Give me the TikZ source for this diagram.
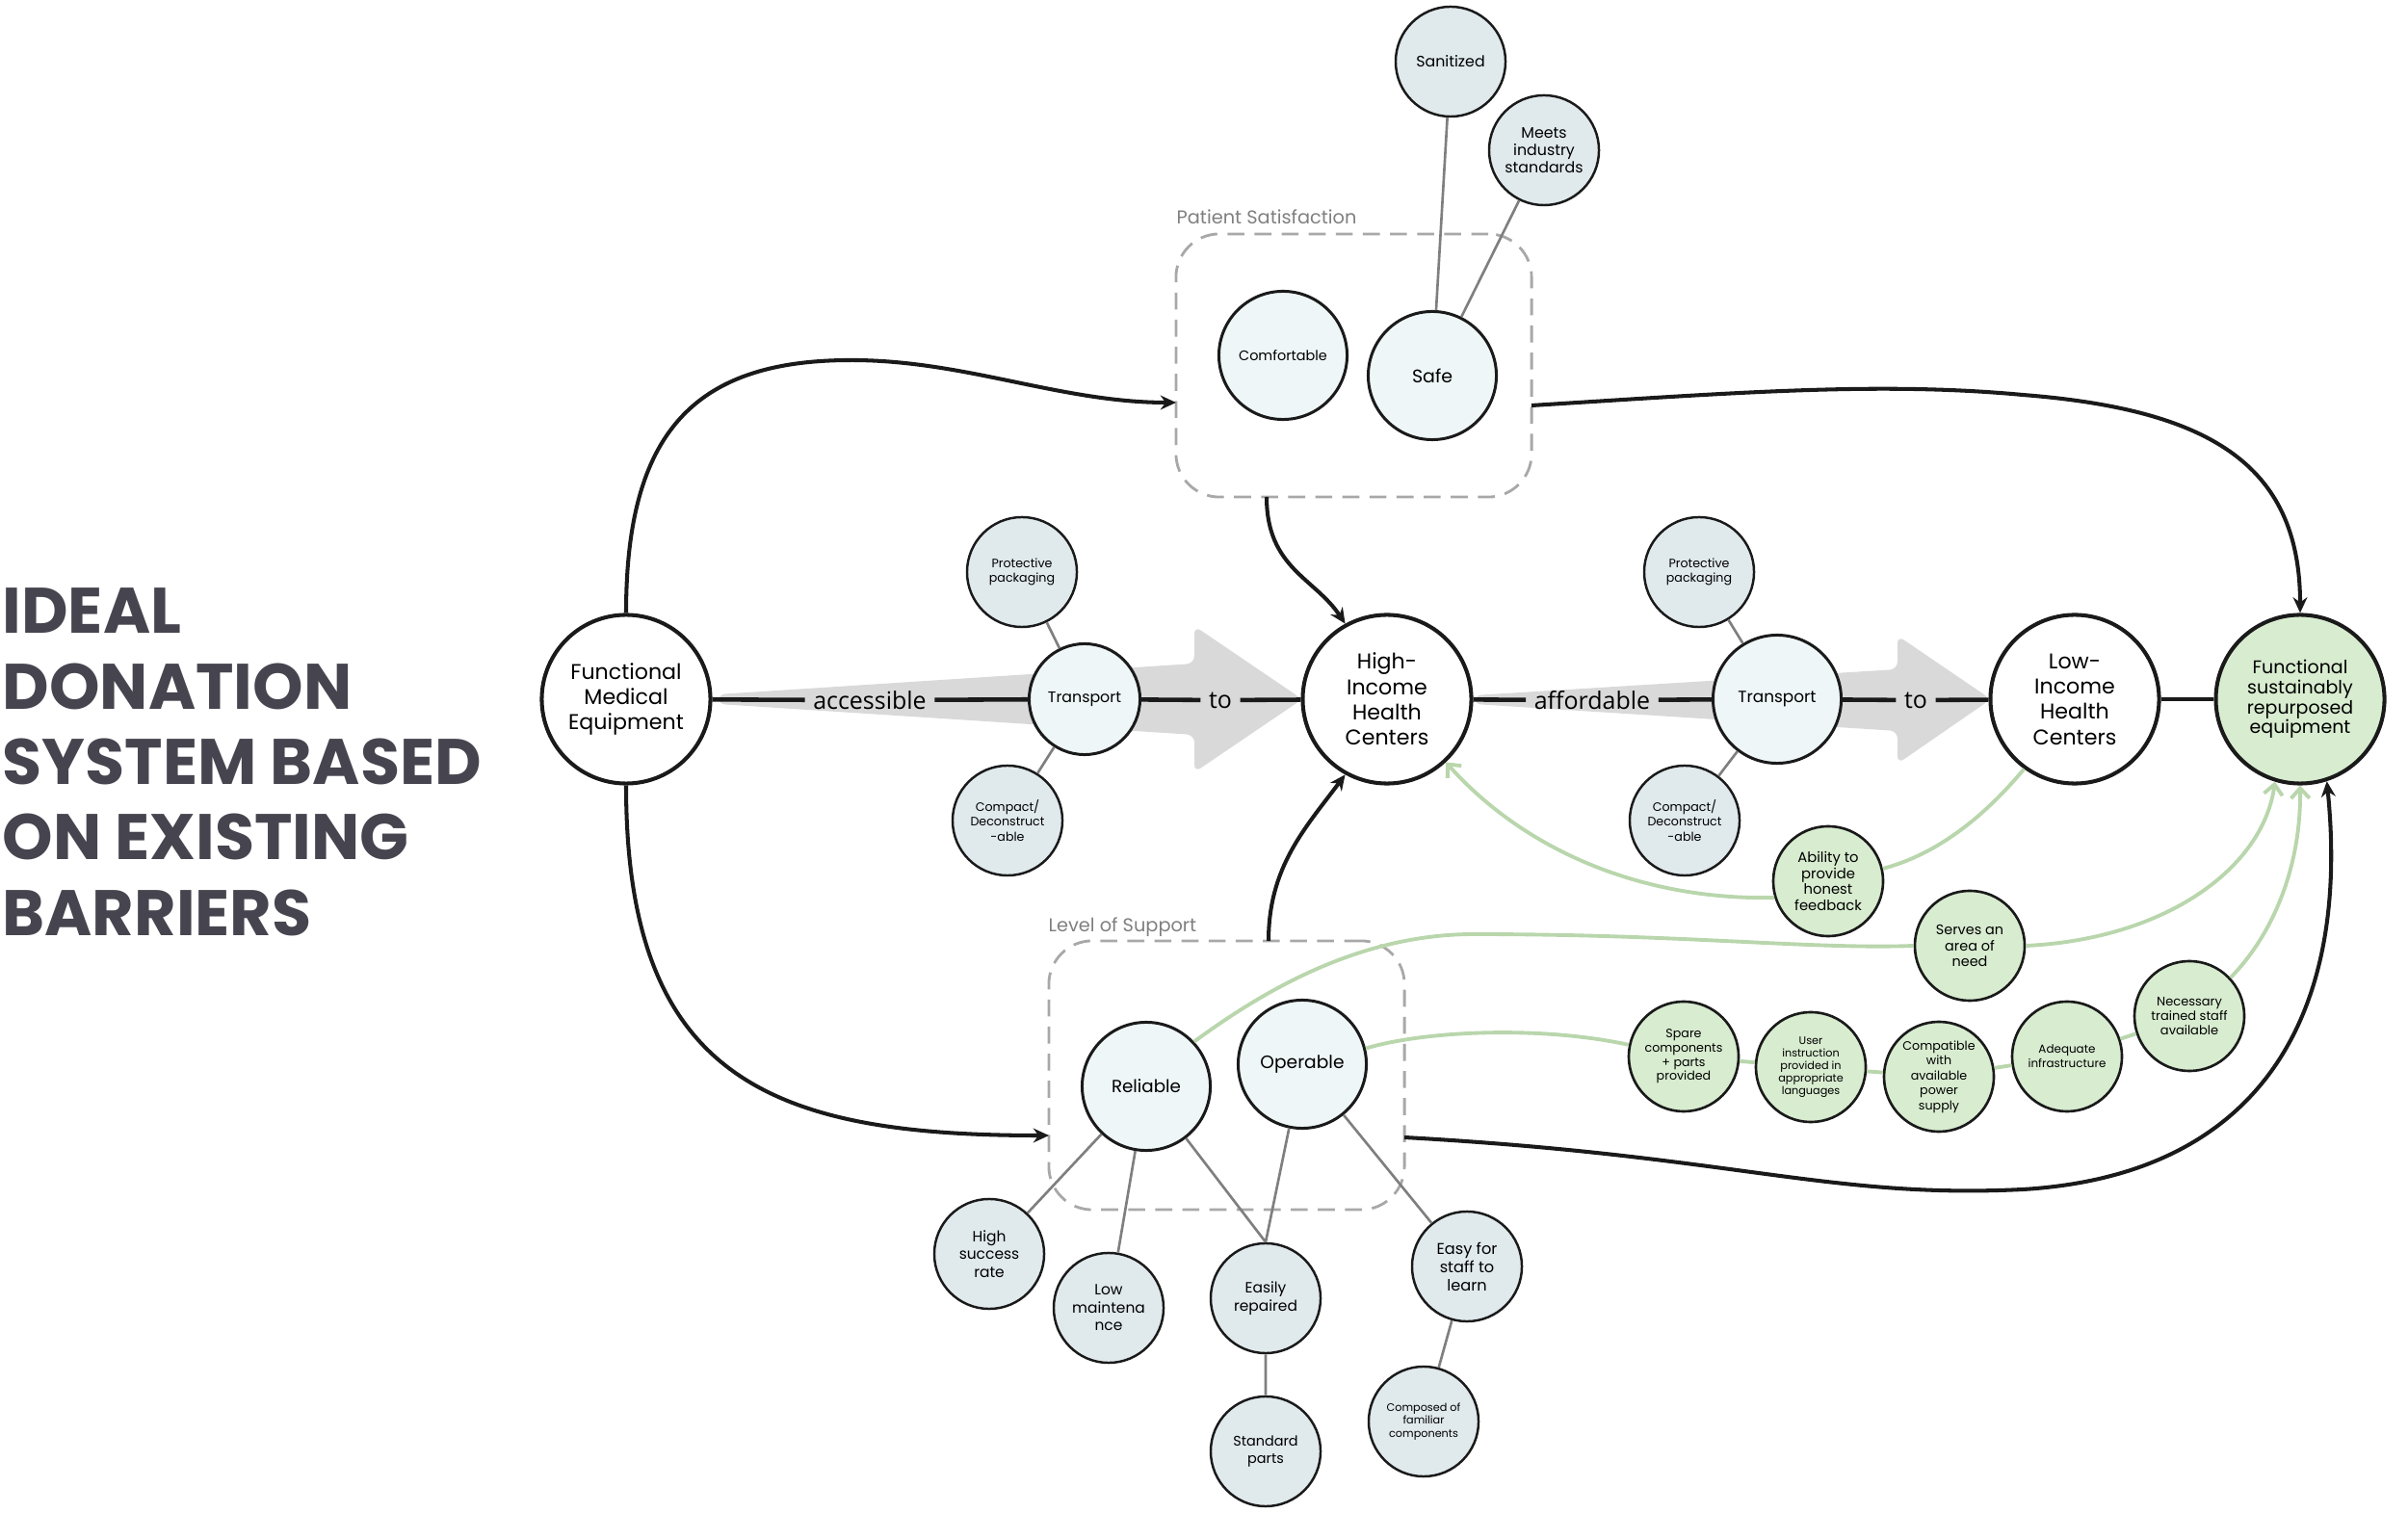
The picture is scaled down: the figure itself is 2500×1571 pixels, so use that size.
\documentclass[tikz,border=0pt]{standalone}
\usepackage{fontspec}
\setmainfont{Poppins}
\newfontfamily\labelfam{Open Sans}
\usepackage{tikz}
\usetikzlibrary{arrows.meta}

\definecolor{ink}{HTML}{1A1A1A}
\definecolor{titlegray}{HTML}{46454F}
\definecolor{subfill}{HTML}{EEF6F8}
\definecolor{leaffill}{HTML}{E0E9EC}
\definecolor{needfill}{HTML}{D8ECD0}
\definecolor{needline}{HTML}{B9D6AC}
\definecolor{bandgray}{HTML}{D9D9D9}
\definecolor{boxgray}{HTML}{A8A8A8}
\definecolor{linkgray}{HTML}{7F7F7F}

\newcommand{\nodefs}[2]{\fontsize{#1pt}{#2pt}\selectfont}

\tikzset{
  hub/.style={circle, draw=ink, line width=1.15pt, fill=white, minimum size=1.75cm,
    inner sep=0pt, align=center, font=\nodefs{6.3}{7.5}},
  sub/.style={circle, draw=ink, line width=0.85pt, fill=subfill, minimum size=1.33cm,
    inner sep=0pt, align=center},
  leaf/.style={circle, draw=ink, line width=0.7pt, fill=leaffill, minimum size=1.14cm,
    inner sep=0pt, align=center, font=\nodefs{4.4}{5.3}},
  need/.style={circle, draw=ink, line width=0.75pt, fill=needfill, minimum size=1.14cm,
    inner sep=0pt, align=center},
  grp/.style={draw=boxgray, line width=0.8pt, dash pattern=on 5pt off 3pt,
    rounded corners=0.45cm},
  grplabel/.style={anchor=base west, inner sep=0pt, text=linkgray, font=\nodefs{5.5}{6.2}},
  flowlabel/.style={inner xsep=0.08cm, inner ysep=0pt, font=\labelfam\nodefs{7.1}{8}},
  titleline/.style={anchor=base west, inner sep=0pt, text=titlegray,
    font=\bfseries\fontsize{19pt}{22pt}\selectfont},
  mainline/.style={draw=ink, line width=1.3pt},
  flow/.style={draw=ink, line width=1.15pt, -{Stealth[length=4.6pt,width=4.2pt]}},
  link/.style={draw=linkgray, line width=0.75pt},
  gline/.style={draw=needline, line width=1.1pt},
  garrow/.style={gline, -{Straight Barb[length=3pt,width=5.5pt]}},
  band/.style={fill=bandgray, rounded corners=0.08cm}
}

\begin{document}
\begin{tikzpicture}[x=0.01cm, y=-0.01cm]
  \useasboundingbox (0,0) rectangle (2500,1571);

  % title
  \foreach \ln/\txt [count=\i] in {658/IDEAL, 737/DONATION, 815/SYSTEM BASED,
      893/ON EXISTING, 972/BARRIERS}
    \node[titleline] (title\i) at (2,\ln) {\txt};

  % wide gray arrows
  \fill[band] (745,721) -- (1240,689) -- (1240,650) -- (1352,726) -- (1240,802)
    -- (1240,763) -- (745,731) -- cycle;
  \fill[band] (1530,722) -- (1970,695) -- (1970,660) -- (2067,726) -- (1970,793)
    -- (1970,759) -- (1530,731) -- cycle;

  % groups
  \node[grp, minimum width=3.69cm, minimum height=2.73cm] (patient) at (1405.5,379.5) {};
  \node[grplabel] (pslabel) at (1221,233) {Patient Satisfaction};
  \node[grp, minimum width=3.69cm, minimum height=2.79cm] (support) at (1273.5,1116.5) {};
  \node[grplabel] (loslabel) at (1088,968) {Level of Support};
  \coordinate (psin) at (1221,418);
  \coordinate (psout) at (1590,421);
  \coordinate (psbot) at (1315,516);
  \coordinate (losin) at (1089,1179);
  \coordinate (losout) at (1458,1181);
  \coordinate (lostop) at (1317,977);

  % main chain
  \node[hub] (fme) at (650,726) {Functional\\Medical\\Equipment};
  \node[hub] (hic) at (1440,726) {High-\\Income\\Health\\Centers};
  \node[hub] (lic) at (2154,726) {Low-\\Income\\Health\\Centers};
  \node[hub, fill=needfill, font=\nodefs{5.4}{5.9}] (fse) at (2388,726)
    {Functional\\sustainably\\repurposed\\equipment};
  \node[flowlabel] (acc) at (903,727) {accessible};
  \node[flowlabel] (to1) at (1267,727) {to};
  \node[flowlabel] (aff) at (1653,727) {affordable};
  \node[flowlabel] (to2) at (1989,727) {to};

  % transport
  \node[sub, minimum size=1.15cm, font=\nodefs{4.5}{5.4}] (tr1) at (1126,726) {Transport};
  \node[leaf, font=\nodefs{3.6}{4.4}] (prt1) at (1061,594) {Protective\\packaging};
  \node[leaf, font=\nodefs{3.6}{4.4}] (cmp1) at (1046,852) {Compact/\\Deconstruct\\-able};
  \node[sub, font=\nodefs{4.8}{5.8}] (tr2) at (1845,726) {Transport};
  \node[leaf, font=\nodefs{3.6}{4.4}] (prt2) at (1764,594) {Protective\\packaging};
  \node[leaf, font=\nodefs{3.6}{4.4}] (cmp2) at (1749,852) {Compact/\\Deconstruct\\-able};

  % patient satisfaction
  \node[sub, font=\nodefs{4.1}{5}] (cmf) at (1332,369) {Comfortable};
  \node[sub, font=\nodefs{5.4}{6.5}] (safe) at (1487,390) {Safe};
  \node[leaf, font=\nodefs{4.5}{5.4}] (san) at (1506,64) {Sanitized};
  \node[leaf, font=\nodefs{4.5}{5.2}] (mts) at (1603,156) {Meets\\industry\\standards};

  % level of support
  \node[sub, font=\nodefs{5.2}{6.2}] (rel) at (1190,1128) {Reliable};
  \node[sub, font=\nodefs{5.3}{6.3}] (opr) at (1352,1105) {Operable};
  \node[leaf] (hsr) at (1027,1302) {High\\success\\rate};
  \node[leaf] (lmt) at (1151,1358) {Low\\maintena\\nce};
  \node[leaf] (ers) at (1314,1348) {Easily\\repaired};
  \node[leaf, font=\nodefs{4.1}{5}] (std) at (1314,1507) {Standard\\parts};
  \node[leaf, font=\nodefs{4.6}{5.4}] (esl) at (1523,1315) {Easy for\\staff to\\learn};
  \node[leaf, font=\nodefs{3.2}{3.9}] (cfc) at (1478,1476) {Composed of\\familiar\\components};

  % needs on the receiving side
  \node[need, font=\nodefs{4.2}{4.8}] (abl) at (1898,915) {Ability to\\provide\\honest\\feedback};
  \node[need, font=\nodefs{4.1}{4.8}] (srv) at (2045,982) {Serves an\\area of\\need};
  \node[need, font=\nodefs{3.6}{4.2}] (spr) at (1748,1097) {Spare\\components\\+ parts\\provided};
  \node[need, font=\nodefs{3.2}{3.75}] (usr) at (1880,1108)
    {User\\instruction\\provided in\\appropriate\\languages};
  \node[need, font=\nodefs{3.6}{4.4}] (cpt) at (2013,1118)
    {Compatible\\with\\available\\power\\supply};
  \node[need, font=\nodefs{3.4}{4.3}] (adq) at (2146,1097) {Adequate\\infrastructure};
  \node[need, font=\nodefs{3.7}{4.35}] (nec) at (2273,1055) {Necessary\\trained staff\\available};

  % horizontal chain
  \draw[mainline] (fme) -- (acc) (acc) -- (tr1) (tr1) -- (to1) (to1) -- (hic);
  \draw[mainline] (hic) -- (aff) (aff) -- (tr2) (tr2) -- (to2) (to2) -- (lic);
  \draw[mainline] (lic) -- (fse);

  % thin links
  \draw[link] (prt1) -- (tr1) (tr1) -- (cmp1) (prt2) -- (tr2) (tr2) -- (cmp2);
  \draw[link] (san) -- (safe) (mts) -- (safe);
  \draw[link] (rel) -- (hsr) (rel) -- (lmt) (rel) -- (ers.north) (opr) -- (ers.north);
  \draw[link] (opr) -- (esl) (ers) -- (std) (esl) -- (cfc);

  % black flows
  \draw[flow] (fme.north) .. controls (650,450) and (720,375) .. (880,374)
    .. controls (1000,373) and (1100,418) .. (psin);
  \draw[flow] (fme.south) .. controls (650,1120) and (800,1179) .. (losin);
  \draw[flow] (psbot) .. controls (1315,590) and (1365,600) .. (hic.119);
  \draw[flow] (lostop) .. controls (1317,900) and (1355,860) .. (hic.241);
  \draw[flow] (psout) .. controls (1800,408) and (1950,396) .. (2100,410)
    .. controls (2290,425) and (2388,480) .. (fse.north);
  \draw[flow] (losout) .. controls (1800,1200) and (1900,1245) .. (2100,1235)
    .. controls (2350,1220) and (2440,1050) .. (fse.288);

  % green flows
  \draw[gline] (lic.234) .. controls (2050,860) and (2000,890) .. (abl.13);
  \draw[garrow] (abl.197) .. controls (1700,935) and (1580,880) .. (hic.313);
  \draw[gline] (rel.43) .. controls (1310,1030) and (1410,970) .. (1530,970)
    .. controls (1750,970) and (1880,986) .. (srv.west);
  \draw[garrow] (srv.east) .. controls (2250,975) and (2350,900) .. (fse.253);
  \draw[gline] (opr.14) .. controls (1480,1070) and (1600,1065) .. (spr.168);
  \draw[gline] (spr) -- (usr) (usr) -- (cpt) (cpt) -- (adq) (adq) -- (nec);
  \draw[garrow] (nec.43) .. controls (2360,970) and (2389,900) .. (fse.south);
\end{tikzpicture}
\end{document}
